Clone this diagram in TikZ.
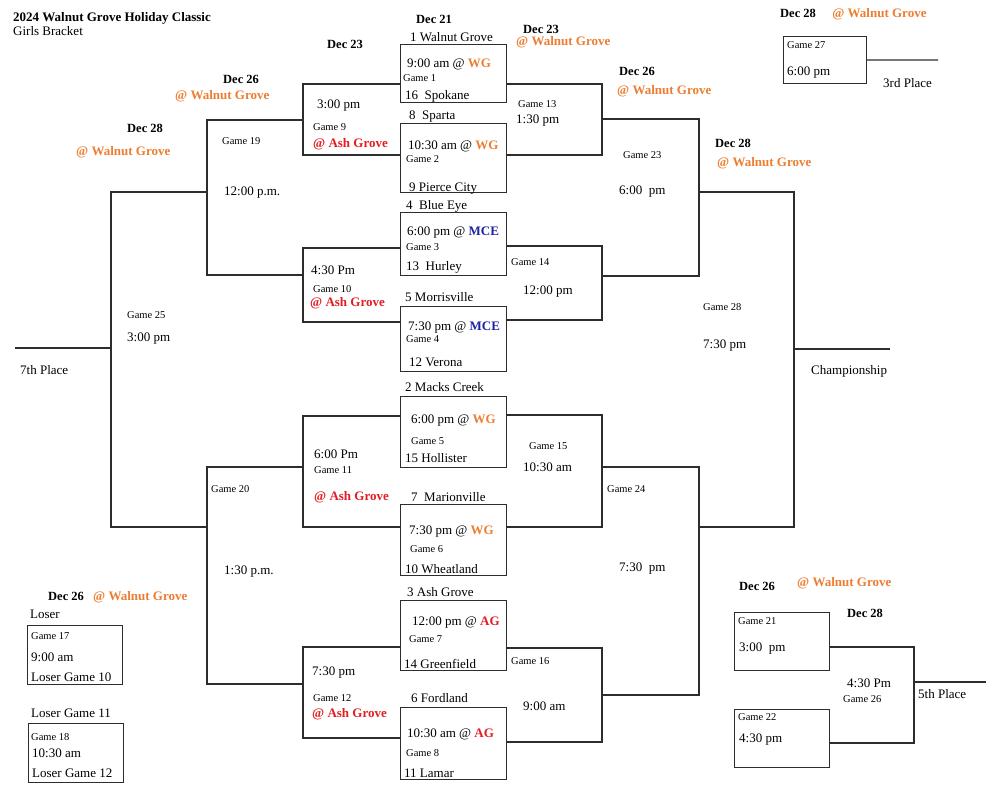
\documentclass[tikz,border=0pt]{standalone}
\usepackage{fontspec}
\setmainfont{Liberation Serif}
\usetikzlibrary{positioning}
\definecolor{LineGray}{RGB}{45,45,45}
\definecolor{WGOrange}{RGB}{237,125,49}
\definecolor{AGRed}{RGB}{225,30,36}
\definecolor{MCEBlue}{RGB}{30,35,160}
\newcommand{\atWG}{\textcolor{WGOrange}{\textbf{WG}}}
\newcommand{\atAG}{\textcolor{AGRed}{\textbf{AG}}}
\newcommand{\atMCE}{\textcolor{MCEBlue}{\textbf{MCE}}}

\begin{document}
\begin{tikzpicture}[x=1pt, y=-1pt,
    box/.style={rectangle, draw=LineGray, line width=1.2pt, inner sep=0pt, anchor=north west},
    firstbox/.style={box, minimum width=106pt},
    sidebox/.style={box, minimum width=95pt, minimum height=58pt},
    bline/.style={draw=LineGray, line width=1.2pt},
    txt/.style={anchor=west, inner sep=0pt, font=\fontsize{13}{15}\selectfont, text height=8.6pt, text depth=0pt},
    gm/.style={anchor=west, inner sep=0pt, font=\fontsize{10.5}{12}\selectfont, text height=7pt, text depth=0pt},
    day/.style={anchor=west, inner sep=0pt, font=\bfseries\fontsize{12.5}{14}\selectfont, text height=8.4pt, text depth=0pt},
    site/.style={day, font=\bfseries\fontsize{13}{15}\selectfont, text=WGOrange},
    agsite/.style={site, text=AGRed}
  ]
  \useasboundingbox (0,0) rectangle (1000,784);

  \node[day, font=\bfseries\fontsize{13}{15}\selectfont] (ttl) at (13,17) {2024 Walnut Grove Holiday Classic};
  \node[txt] (sub) at (13,31) {Girls Bracket};

  \node[day] (d21) at (416,19) {Dec 21};
  \node[day] (d23l) at (327,44) {Dec 23};
  \node[day] (d23r) at (523,29) {Dec 23};
  \node[site] (s23r) at (516,41) {@ Walnut Grove};
  \node[day] (d26l) at (223,79) {Dec 26};
  \node[site] (s26l) at (175,95) {@ Walnut Grove};
  \node[day] (d28l) at (127,128) {Dec 28};
  \node[site] (s28l) at (76,151) {@ Walnut Grove};
  \node[day] (d26r) at (619,71) {Dec 26};
  \node[site] (s26r) at (617,90) {@ Walnut Grove};
  \node[day] (d28r) at (715,143) {Dec 28};
  \node[site] (s28r) at (717,162) {@ Walnut Grove};
  \node[day] (d28t) at (780,13) {Dec 28};
  \node[site, right=16pt of d28t] (s28t) {@ Walnut Grove};

  \node[firstbox, minimum height=58pt] (g1) at (400,44) {};
  \node[firstbox, minimum height=69pt] (g2) at (400,123) {};
  \node[firstbox, minimum height=63pt] (g3) at (400,212) {};
  \node[firstbox, minimum height=65pt] (g4) at (400,306) {};
  \node[firstbox, minimum height=71pt] (g5) at (400,396) {};
  \node[firstbox, minimum height=71pt] (g6) at (400,504) {};
  \node[firstbox, minimum height=70pt] (g7) at (400,600) {};
  \node[firstbox, minimum height=72pt] (g8) at (400,707) {};

  \node[txt] (t1a) at (410,37) {1 Walnut Grove};
  \node[txt] (g1t) at (407,63) {9:00 am @ \atWG};
  \node[gm] (g1n) at (403,78) {Game 1};
  \node[txt] (t1b) at (405,95) {16\ \ Spokane};
  \node[txt] (t2a) at (409,115) {8\ \ Sparta};
  \node[txt] (g2t) at (408,145) {10:30 am @ \atWG};
  \node[gm] (g2n) at (406,159) {Game 2};
  \node[txt] (t2b) at (409,187) {9 Pierce City};
  \node[txt] (t3a) at (406,205) {4\ \ Blue Eye};
  \node[txt] (g3t) at (407,231) {6:00 pm @ \atMCE};
  \node[gm] (g3n) at (406,247) {Game 3};
  \node[txt] (t3b) at (406,266) {13\ \ Hurley};
  \node[txt] (t4a) at (405,297) {5 Morrisville};
  \node[txt] (g4t) at (408,326) {7:30 pm @ \atMCE};
  \node[gm] (g4n) at (406,339) {Game 4};
  \node[txt] (t4b) at (409,362) {12 Verona};
  \node[txt] (t5a) at (405,387) {2 Macks Creek};
  \node[txt] (g5t) at (411,419) {6:00 pm @ \atWG};
  \node[gm] (g5n) at (411,441) {Game 5};
  \node[txt] (t5b) at (405,458) {15 Hollister};
  \node[txt] (t6a) at (411,497) {7\ \ Marionville};
  \node[txt] (g6t) at (409,530) {7:30 pm @ \atWG};
  \node[gm] (g6n) at (410,549) {Game 6};
  \node[txt] (t6b) at (405,569) {10 Wheatland};
  \node[txt] (t7a) at (407,592) {3 Ash Grove};
  \node[txt] (g7t) at (412,621) {12:00 pm @ \atAG};
  \node[gm] (g7n) at (409,639) {Game 7};
  \node[txt] (t7b) at (404,664) {14 Greenfield};
  \node[txt] (t8a) at (411,698) {6 Fordland};
  \node[txt] (g8t) at (407,733) {10:30 am @ \atAG};
  \node[gm] (g8n) at (406,753) {Game 8};
  \node[txt] (t8b) at (404,773) {11 Lamar};

  \coordinate (b9t) at (303,84);   \coordinate (b9b) at (303,155);
  \coordinate (b10t) at (303,248); \coordinate (b10b) at (303,322);
  \coordinate (b11t) at (303,416); \coordinate (b11b) at (303,527);
  \coordinate (b12t) at (303,647); \coordinate (b12b) at (303,738);
  \coordinate (b19t) at (207,120); \coordinate (b19b) at (207,275);
  \coordinate (b20t) at (207,467); \coordinate (b20b) at (207,684);
  \coordinate (b25t) at (111,192); \coordinate (b25b) at (111,527);
  \coordinate (b25m) at (111,348); \coordinate (p7) at (15,348);

  \coordinate (b13t) at (602,84);  \coordinate (b13b) at (602,155);
  \coordinate (b14t) at (602,246); \coordinate (b14b) at (602,320);
  \coordinate (b15t) at (602,415); \coordinate (b15b) at (602,527);
  \coordinate (b16t) at (602,648); \coordinate (b16b) at (602,742);
  \coordinate (b23t) at (699,119); \coordinate (b23b) at (699,276);
  \coordinate (b24t) at (699,467); \coordinate (b24b) at (699,695);
  \coordinate (b28t) at (794,192); \coordinate (b28b) at (794,527);
  \coordinate (b28m) at (794,349); \coordinate (pc) at (890,349);

  \draw[bline] (b9t -| g1.west) -- (b9t) -- (b9b) -- (b9b -| g2.west);
  \draw[bline] (b10t -| g3.west) -- (b10t) -- (b10b) -- (b10b -| g4.west);
  \draw[bline] (b11t -| g5.west) -- (b11t) -- (b11b) -- (b11b -| g6.west);
  \draw[bline] (b12t -| g7.west) -- (b12t) -- (b12b) -- (b12b -| g8.west);
  \draw[bline] (b19t -| b9t) -- (b19t) -- (b19b) -- (b19b -| b10t);
  \draw[bline] (b20t -| b11t) -- (b20t) -- (b20b) -- (b20b -| b12t);
  \draw[bline] (b25t -| b19t) -- (b25t) -- (b25b) -- (b25b -| b20t);
  \draw[bline] (b25m) -- (p7);

  \draw[bline] (b13t -| g1.east) -- (b13t) -- (b13b) -- (b13b -| g2.east);
  \draw[bline] (b14t -| g3.east) -- (b14t) -- (b14b) -- (b14b -| g4.east);
  \draw[bline] (b15t -| g5.east) -- (b15t) -- (b15b) -- (b15b -| g6.east);
  \draw[bline] (b16t -| g7.east) -- (b16t) -- (b16b) -- (b16b -| g8.east);
  \draw[bline] (b23t -| b13t) -- (b23t) -- (b23b) -- (b23b -| b14t);
  \draw[bline] (b24t -| b15t) -- (b24t) -- (b24b) -- (b24b -| b16t);
  \draw[bline] (b28t -| b23t) -- (b28t) -- (b28b) -- (b28b -| b24t);
  \draw[bline] (b28m) -- (pc);

  \node[txt] (g9t) at (317,104) {3:00 pm};
  \node[gm] (g9n) at (313,127) {Game 9};
  \node[agsite] (g9s) at (313,143) {@ Ash Grove};
  \node[txt] (g10t) at (311,270) {4:30 Pm};
  \node[gm] (g10n) at (313,289) {Game 10};
  \node[agsite] (g10s) at (310,302) {@ Ash Grove};
  \node[txt] (g11t) at (314,454) {6:00 Pm};
  \node[gm] (g11n) at (314,470) {Game 11};
  \node[agsite] (g11s) at (314,496) {@ Ash Grove};
  \node[txt] (g12t) at (312,671) {7:30 pm};
  \node[gm] (g12n) at (313,698) {Game 12};
  \node[agsite] (g12s) at (312,713) {@ Ash Grove};

  \node[gm] (g19n) at (222,141) {Game 19};
  \node[txt] (g19t) at (224,191) {12:00 p.m.};
  \node[gm] (g20n) at (211,489) {Game 20};
  \node[txt] (g20t) at (224,570) {1:30 p.m.};
  \node[gm] (g25n) at (127,315) {Game 25};
  \node[txt] (g25t) at (127,337) {3:00 pm};
  \node[txt] (seventh) at (20,370) {7th Place};

  \node[gm] (g13n) at (518,104) {Game 13};
  \node[txt] (g13t) at (516,119) {1:30 pm};
  \node[gm] (g14n) at (511,262) {Game 14};
  \node[txt] (g14t) at (523,290) {12:00 pm};
  \node[gm] (g15n) at (529,446) {Game 15};
  \node[txt] (g15t) at (523,467) {10:30 am};
  \node[gm] (g16n) at (511,661) {Game 16};
  \node[txt] (g16t) at (523,706) {9:00 am};
  \node[gm] (g23n) at (623,155) {Game 23};
  \node[txt] (g23t) at (619,190) {6:00\ \ pm};
  \node[gm] (g24n) at (607,489) {Game 24};
  \node[txt] (g24t) at (619,567) {7:30\ \ pm};
  \node[gm] (g28n) at (703,307) {Game 28};
  \node[txt] (g28t) at (703,344) {7:30 pm};
  \node[txt] (champ) at (811,370) {Championship};

  \node[box, minimum width=83pt, minimum height=47pt] (g27) at (783,36) {};
  \node[gm] (g27n) at (787,45) {Game 27};
  \node[txt] (g27t) at (787,71) {6:00 pm};
  \coordinate (p3) at (938,60);
  \draw[bline] (g27.east) -- (p3);
  \node[txt] (third) at (883,83) {3rd Place};

  \node[day] (d26b) at (48,596) {Dec 26};
  \node[site] (s26b) at (93,596) {@ Walnut Grove};
  \node[txt] (loser) at (30,614) {Loser};
  \node[sidebox, minimum height=59pt] (g17) at (27,625) {};
  \node[gm] (g17n) at (31,636) {Game 17};
  \node[txt] (g17t) at (31,657) {9:00 am};
  \node[txt] (g17l) at (31,677) {Loser Game 10};
  \node[txt] (l11) at (31,713) {Loser Game 11};
  \node[sidebox, minimum height=59pt] (g18) at (28,723) {};
  \node[gm] (g18n) at (31,737) {Game 18};
  \node[txt] (g18t) at (32,753) {10:30 am};
  \node[txt] (g18l) at (32,773) {Loser Game 12};

  \node[day] (d26c) at (739,586) {Dec 26};
  \node[site] (s26c) at (797,582) {@ Walnut Grove};
  \node[day] (d28c) at (847,613) {Dec 28};
  \node[sidebox] (g21) at (734,612) {};
  \node[gm] (g21n) at (738,621) {Game 21};
  \node[txt] (g21t) at (739,647) {3:00\ \ pm};
  \node[sidebox] (g22) at (734,709) {};
  \node[gm] (g22n) at (738,717) {Game 22};
  \node[txt] (g22t) at (739,738) {4:30 pm};
  \coordinate (b26t) at (914,647); \coordinate (b26b) at (914,743);
  \coordinate (b26m) at (914,682); \coordinate (p5) at (986,682);
  \draw[bline] (b26t -| g21.east) -- (b26t) -- (b26b) -- (b26b -| g22.east);
  \draw[bline] (b26m) -- (p5);
  \node[txt] (g26t) at (847,683) {4:30 Pm};
  \node[gm] (g26n) at (843,699) {Game 26};
  \node[txt] (fifth) at (918,694) {5th Place};
\end{tikzpicture}
\end{document}
